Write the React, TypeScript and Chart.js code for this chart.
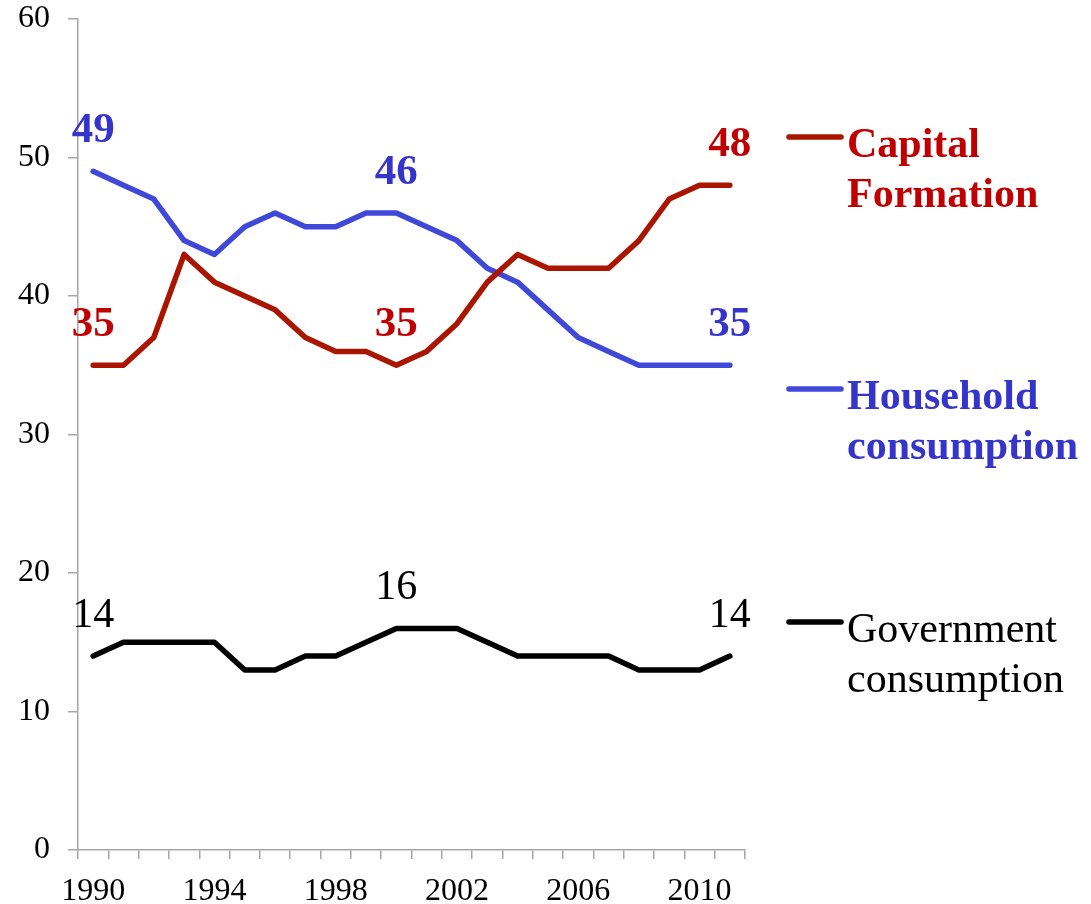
import React, { useEffect, useRef } from 'react';
import { Chart, registerables } from 'chart.js';

Chart.register(...registerables);

const years = ['1990', '1991', '1992', '1993', '1994', '1995', '1996', '1997', '1998', '1999', '2000', '2001', '2002', '2003', '2004', '2005', '2006', '2007', '2008', '2009', '2010', '2011'];
const capitalFormation = [35, 35, 37, 43, 41, 40, 39, 37, 36, 36, 35, 36, 38, 41, 43, 42, 42, 42, 44, 47, 48, 48];
const householdConsumption = [49, 48, 47, 44, 43, 45, 46, 45, 45, 46, 46, 45, 44, 42, 41, 39, 37, 36, 35, 35, 35, 35];
const governmentConsumption = [14, 15, 15, 15, 15, 13, 13, 14, 14, 15, 16, 16, 16, 15, 14, 14, 14, 14, 13, 13, 13, 14];
const labelledIndices = [0, 10, 21];
const shownYearLabels = ['1990', '1994', '1998', '2002', '2006', '2010'];
const seriesNames = [
  ['Capital', 'Formation'],
  ['Household', 'consumption'],
  ['Government', 'consumption'],
];
const lineColors = ['#AA1500', '#3F48D8', '#000000'];
const textColors = ['#C00000', '#3535CC', '#000000'];
const boldText = [true, true, false];

const SERIF = '"Liberation Serif", "Times New Roman", serif';

const labelPlugin = {
  id: 'pointLabels',
  afterDatasetsDraw(chart: any) {
    const ctx = chart.ctx;
    ctx.save();
    ctx.textAlign = 'center';
    ctx.textBaseline = 'alphabetic';
    chart.data.datasets.forEach((ds: any, di: number) => {
      const meta = chart.getDatasetMeta(di);
      ctx.fillStyle = textColors[di];
      ctx.font = `${boldText[di] ? 'bold ' : ''}${boldText[di] ? 43 : 42}px ${SERIF}`;
      labelledIndices.forEach((i) => {
        const pt = meta.data[i];
        ctx.fillText(String(ds.data[i]), pt.x, pt.y - 29);
      });
    });
    ctx.restore();
  },
};

const legendPlugin = {
  id: 'sideLegend',
  afterDraw(chart: any) {
    const ctx = chart.ctx;
    const area = chart.chartArea;
    const lineYs = [137, 389, 622];
    ctx.save();
    seriesNames.forEach((lines, i) => {
      const y = lineYs[i];
      ctx.strokeStyle = lineColors[i];
      ctx.lineWidth = 5.5;
      ctx.lineCap = 'round';
      ctx.beginPath();
      ctx.moveTo(area.right + 44, y);
      ctx.lineTo(area.right + 96, y);
      ctx.stroke();
      ctx.fillStyle = textColors[i];
      ctx.font = `${boldText[i] ? 'bold ' : ''}42px ${SERIF}`;
      ctx.textAlign = 'left';
      ctx.textBaseline = 'alphabetic';
      lines.forEach((t, li) => {
        ctx.fillText(t, area.right + 102, y + 20 + li * 50);
      });
    });
    ctx.restore();
  },
};

export default function App() {
  const canvasRef = useRef<HTMLCanvasElement | null>(null);

  useEffect(() => {
    if (!canvasRef.current) return;
    const chart = new Chart(canvasRef.current, {
      type: 'line',
      data: {
        labels: years,
        datasets: [
          { label: 'Capital Formation', data: capitalFormation, borderColor: lineColors[0] },
          { label: 'Household consumption', data: householdConsumption, borderColor: lineColors[1] },
          { label: 'Government consumption', data: governmentConsumption, borderColor: lineColors[2] },
        ].map((d) => ({
          ...d,
          borderWidth: 5.5,
          pointRadius: 0,
          tension: 0,
          fill: false,
          borderCapStyle: 'round' as const,
          borderJoinStyle: 'round' as const,
        })),
      },
      options: {
        animation: false,
        responsive: true,
        maintainAspectRatio: false,
        layout: { padding: { top: 19, right: 346, left: 0, bottom: 0 } },
        plugins: {
          legend: { display: false },
          tooltip: { enabled: false },
        },
        scales: {
          x: {
            type: 'category',
            offset: true,
            grid: {
              offset: true,
              drawOnChartArea: false,
              drawTicks: true,
              tickLength: 9,
              color: '#A6A6A6',
              lineWidth: 1.5,
            },
            border: { color: '#A6A6A6', width: 1.5 },
            ticks: {
              autoSkip: false,
              maxRotation: 0,
              minRotation: 0,
              padding: 13,
              color: '#000000',
              font: { family: SERIF, size: 32 },
              callback: function (this: any, value: any) {
                const lbl = this.getLabelForValue(value);
                return shownYearLabels.includes(lbl) ? lbl : '';
              },
            },
            afterFit: (s: any) => {
              s.height = 54;
              s.paddingLeft = 0;
              s.paddingRight = 0;
            },
          },
          y: {
            min: 0,
            max: 60,
            grid: {
              drawOnChartArea: false,
              drawTicks: true,
              tickLength: 10,
              color: '#A6A6A6',
              lineWidth: 1.5,
            },
            border: { color: '#A6A6A6', width: 1.5 },
            ticks: {
              stepSize: 10,
              padding: 18,
              color: '#000000',
              font: { family: SERIF, size: 32 },
            },
            afterFit: (s: any) => {
              s.width = 78;
              s.paddingTop = 0;
              s.paddingBottom = 0;
            },
          },
        },
      },
      plugins: [labelPlugin, legendPlugin],
    });
    return () => chart.destroy();
  }, []);

  return (
    <div style={{ position: 'absolute', left: 0, top: 0, width: 1091, height: 904, background: '#ffffff' }}>
      <canvas ref={canvasRef} />
    </div>
  );
}
